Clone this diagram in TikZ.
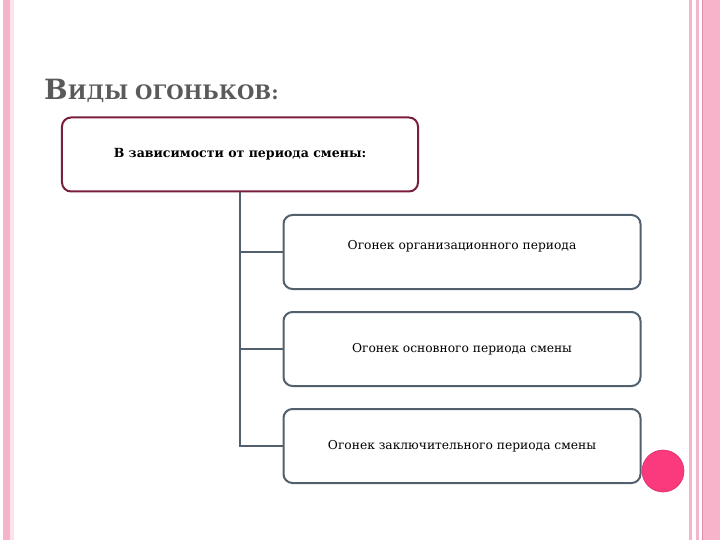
\documentclass[tikz,border=0pt]{standalone}
\usepackage{fontspec}
\setmainfont{Liberation Serif}
\newfontfamily\boxfont{DejaVu Serif}
\definecolor{stripe}{HTML}{F6B3C9}
\definecolor{stripepale}{HTML}{FBE2EB}
\definecolor{stripedark}{HTML}{E38AA8}
\definecolor{titlegray}{HTML}{5A5A5A}
\definecolor{topborder}{HTML}{7A1E3E}
\definecolor{childborder}{HTML}{52606E}
\definecolor{dotpink}{HTML}{FB3A7E}
\tikzset{
  topbox/.style={draw=topborder, line width=2bp, rounded corners=9bp, fill=white,
    minimum width=356bp, minimum height=74bp, inner sep=0pt,
    font=\boxfont\bfseries\fontsize{12.6}{14}\selectfont},
  childbox/.style={draw=childborder, line width=2bp, rounded corners=9bp, fill=white,
    minimum width=357bp, minimum height=74bp, inner sep=0pt,
    font=\boxfont\fontsize{12.3}{14}\selectfont},
  conn/.style={draw=childborder, line width=1.6bp}
}
\begin{document}
\begin{tikzpicture}[x=1bp,y=-1bp]
\useasboundingbox (0,0) rectangle (720,540);
% side stripes
\fill[stripe] (3,0) rectangle (9.5,540);
\fill[stripepale] (10,0) rectangle (14,540);
\fill[stripe] (689,0) rectangle (692,540);
\fill[stripe] (696,0) rectangle (698.5,540);
\fill[stripedark] (701.5,0) rectangle (703,540);
\fill[stripe] (703,0) rectangle (720,540);
% title
\node[anchor=base west, text=titlegray, inner sep=0pt, font=\boxfont\bfseries] (title) at (44,100)
  {\fontsize{28}{28}\selectfont В\fontsize{20}{20}\selectfont ИДЫ ОГОНЬКОВ:};
% boxes
\node[topbox] (top) at (240,154.5) {В зависимости от периода смены:};
\node[childbox] (c1) at (462,252) {\raisebox{14bp}{Огонек организационного периода}};
\node[childbox] (c2) at (462,349) {Огонек основного периода смены};
\node[childbox] (c3) at (462,446) {Огонек заключительного периода смены};
% connectors
\draw[conn] (top.south) -- (c3.west -| top.south) -- (c3.west);
\draw[conn] (c1.west -| top.south) -- (c1.west);
\draw[conn] (c2.west -| top.south) -- (c2.west);
% dot
\node[circle, fill=dotpink, draw=dotpink!85!black, line width=0.6bp, minimum size=42bp, inner sep=0pt] (dot) at (663,471) {};
\end{tikzpicture}
\end{document}
